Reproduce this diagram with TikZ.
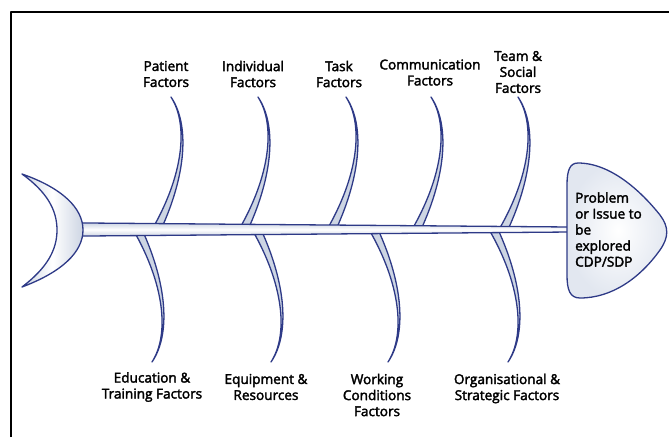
\documentclass[tikz,border=0pt]{standalone}
\usepackage{fontspec}
\setmainfont{Open Sans}
\newfontfamily\factorfont{Open Sans}[FakeBold=2.5]
\definecolor{bone-navy}{HTML}{2E3A87}
\definecolor{bone-fill}{HTML}{CDD5E3}
\definecolor{head-edge}{HTML}{E2E7F0}

\begin{document}
\begin{tikzpicture}[x=1pt, y=-1pt, line join=round,
    bone/.style={draw=bone-navy, line width=1.3pt, fill=bone-fill},
    factor/.style={align=center, inner sep=0pt, font=\factorfont\fontsize{13.6}{16}\selectfont}]
        \useasboundingbox (0,0) rectangle (669,437);
        \draw[line width=1.6pt] (11,437) -- (11,12) -- (669,12);

        % upper bones
        \draw[bone, shift={(171,0)}] (0,97) .. controls (19,125) and (15,175) .. (-10,229.5) -- (-19,229.5) .. controls (12,176) and (18,125) .. (0,97) -- cycle;
        \draw[bone, shift={(258,0)}] (0,97) .. controls (19,125) and (15,175) .. (-10,229.5) -- (-19,229.5) .. controls (12,176) and (18,125) .. (0,97) -- cycle;
        \draw[bone, shift={(346,0)}] (0,97) .. controls (19,125) and (15,175) .. (-10,229.5) -- (-19,229.5) .. controls (12,176) and (18,125) .. (0,97) -- cycle;
        \draw[bone, shift={(431,0)}] (0,97) .. controls (19,125) and (15,175) .. (-10,229.5) -- (-19,229.5) .. controls (12,176) and (18,125) .. (0,97) -- cycle;
        \draw[bone, shift={(518,0)}] (0,97) .. controls (19,125) and (15,175) .. (-10,229.5) -- (-19,229.5) .. controls (12,176) and (18,125) .. (0,97) -- cycle;

        % lower bones
        \draw[bone, shift={(152,0)}] (0,362) .. controls (19,334) and (15,284) .. (-10,229.5) -- (-19,229.5) .. controls (12,283) and (18,334) .. (0,362) -- cycle;
        \draw[bone, shift={(271,0)}] (0,362) .. controls (19,334) and (15,284) .. (-10,229.5) -- (-19,229.5) .. controls (12,283) and (18,334) .. (0,362) -- cycle;
        \draw[bone, shift={(388,0)}] (0,362) .. controls (19,334) and (15,284) .. (-10,229.5) -- (-19,229.5) .. controls (12,283) and (18,334) .. (0,362) -- cycle;
        \draw[bone, shift={(508,0)}] (0,362) .. controls (19,334) and (15,284) .. (-10,229.5) -- (-19,229.5) .. controls (12,283) and (18,334) .. (0,362) -- cycle;

        % spine, tail and head
        \draw[bone, top color=bone-fill, bottom color=bone-fill, middle color=white] (75,222.9) -- (570,227) -- (570,232) -- (75,236.1) -- cycle;
        \draw[bone, left color=bone-fill, right color=bone-fill, middle color=white] (22,174) .. controls (62,188) and (83,208) .. (83,230) .. controls (83,252) and (62,272) .. (22,287) .. controls (47,268) and (57,250) .. (57,230) .. controls (57,210) and (47,192) .. (22,174) -- cycle;
        \draw[bone, inner color=white, outer color=head-edge] (578,163) .. controls (610,163) and (640,190) .. (660,215) .. controls (669,227) and (669,237) .. (660,250) .. controls (640,278) and (612,298) .. (580,298) .. controls (570,298) and (567,290) .. (567,275) -- (567,185) .. controls (567,170) and (570,163) .. (578,163) -- cycle;

        \node[factor, align=left, anchor=west] (head) at (575,229.5) {Problem\\or Issue to\\be\\explored\\CDP/SDP};

        \node[factor] (t1) at (166,74) {Patient\\Factors};
        \node[factor] (t2) at (253,74) {Individual\\Factors};
        \node[factor] (t3) at (339,74) {Task\\Factors};
        \node[factor] (t4) at (430,72.5) {Communication\\Factors};
        \node[factor] (t5) at (518,72) {Team \&\\Social\\Factors};
        \node[factor] (b1) at (152,387) {Education \&\\Training Factors};
        \node[factor] (b2) at (266,387) {Equipment \&\\Resources};
        \node[factor] (b3) at (377,395) {Working\\Conditions\\Factors};
        \node[factor] (b4) at (507,388.5) {Organisational \&\\Strategic Factors};
      \end{tikzpicture}
\end{document}
